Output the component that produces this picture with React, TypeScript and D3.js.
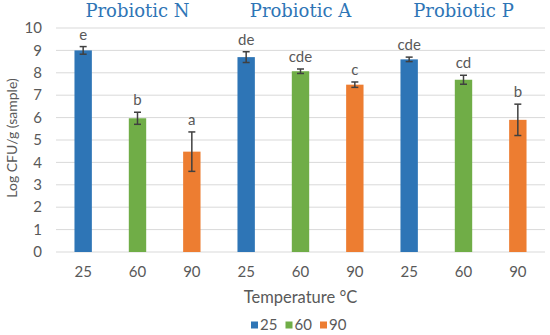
import * as d3 from 'd3'

const categories = ['25', '60', '90', '25', '60', '90', '25', '60', '90']
const groups = ['Probiotic N', 'Probiotic A', 'Probiotic P']
const values = [9.0, 5.97, 4.48, 8.7, 8.07, 7.47, 8.6, 7.69, 5.9]
const errors = [0.17, 0.27, 0.88, 0.24, 0.1, 0.12, 0.1, 0.2, 0.7]
const letters = ['e', 'b', 'a', 'de', 'cde', 'c', 'cde', 'cd', 'b']
const temps = ['25', '60', '90']
const yTicks = [0, 1, 2, 3, 4, 5, 6, 7, 8, 9, 10]

const colors: Record<string, string> = { '25': '#2e75b6', '60': '#70ad47', '90': '#ed7d31' }

export default function App() {
  const width = 550
  const height = 335
  const margin = { top: 28, right: 5, bottom: 83, left: 56 }
  const innerW = width - margin.left - margin.right
  const innerH = height - margin.top - margin.bottom

  const x = d3.scaleBand<number>()
    .domain(d3.range(categories.length))
    .range([0, innerW])
    .paddingInner(0.68)
    .paddingOuter(0.34)
  const y = d3.scaleLinear().domain([0, 10]).range([innerH, 0])

  const font = 'Lato, "Open Sans", sans-serif'
  const grey = '#595959'

  return (
    <svg width={width} height={height} style={{ position: 'absolute', left: 0, top: 0 }} fontFamily={font}>
      <g transform={`translate(${margin.left},${margin.top})`}>
        {/* grid */}
        {yTicks.map((t) => (
          <line key={t} x1={0} x2={innerW} y1={y(t)} y2={y(t)} stroke="#d9d9d9" strokeWidth={1} />
        ))}
        {/* y labels */}
        {yTicks.map((t) => (
          <text key={t} x={-14} y={y(t)} dy="0.35em" textAnchor="end" fontSize={15} fill={grey}>{t}</text>
        ))}
        {/* bars */}
        {values.map((v, i) => (
          <rect key={i} x={x(i)} y={y(v)} width={x.bandwidth()} height={y(0) - y(v)} fill={colors[categories[i]]} />
        ))}
        {/* error bars */}
        {values.map((v, i) => {
          const cx = (x(i) ?? 0) + x.bandwidth() / 2
          const top = y(v + errors[i])
          const bot = y(v - errors[i])
          return (
            <g key={i} stroke="#404040" strokeWidth={1.5}>
              <line x1={cx} x2={cx} y1={top} y2={bot} />
              <line x1={cx - 3.5} x2={cx + 3.5} y1={top} y2={top} />
              <line x1={cx - 3.5} x2={cx + 3.5} y1={bot} y2={bot} />
            </g>
          )
        })}
        {/* significance letters */}
        {values.map((v, i) => (
          <text key={i} x={(x(i) ?? 0) + x.bandwidth() / 2} y={y(v + errors[i]) - 7} textAnchor="middle" fontSize={15} fill={grey}>
            {letters[i]}
          </text>
        ))}
        {/* x labels */}
        {categories.map((c, i) => (
          <text key={i} x={(x(i) ?? 0) + x.bandwidth() / 2} y={innerH + 20} dy="0.35em" textAnchor="middle" fontSize={15} fill={grey}>{c}</text>
        ))}
        {/* group titles */}
        {groups.map((g, gi) => (
          <text key={g} x={(x(gi * 3 + 1) ?? 0) + x.bandwidth() / 2} y={-11} textAnchor="middle" fontSize={18}
            fill="#2e75b6" fontFamily='"DejaVu Serif", serif'>{g}</text>
        ))}
        {/* axis titles */}
        <text x={innerW / 2} y={innerH + 45} dy="0.35em" textAnchor="middle" fontSize={16.5} fill={grey}>Temperature °C</text>
        <text transform={`translate(${-44},${innerH / 2 - 2}) rotate(-90)`} textAnchor="middle" dy="0.35em" fontSize={14} fill={grey}>Log CFU/g (sample)</text>
      </g>
      {/* legend */}
      <g transform={`translate(251,325)`}>
        {temps.map((t, i) => (
          <g key={t} transform={`translate(${i * 34.5},0)`}>
            <rect x={0} y={-3.5} width={7} height={7} fill={colors[t]} />
            <text x={9} y={0} dy="0.35em" fontSize={15} fill={grey}>{t}</text>
          </g>
        ))}
      </g>
    </svg>
  )
}
